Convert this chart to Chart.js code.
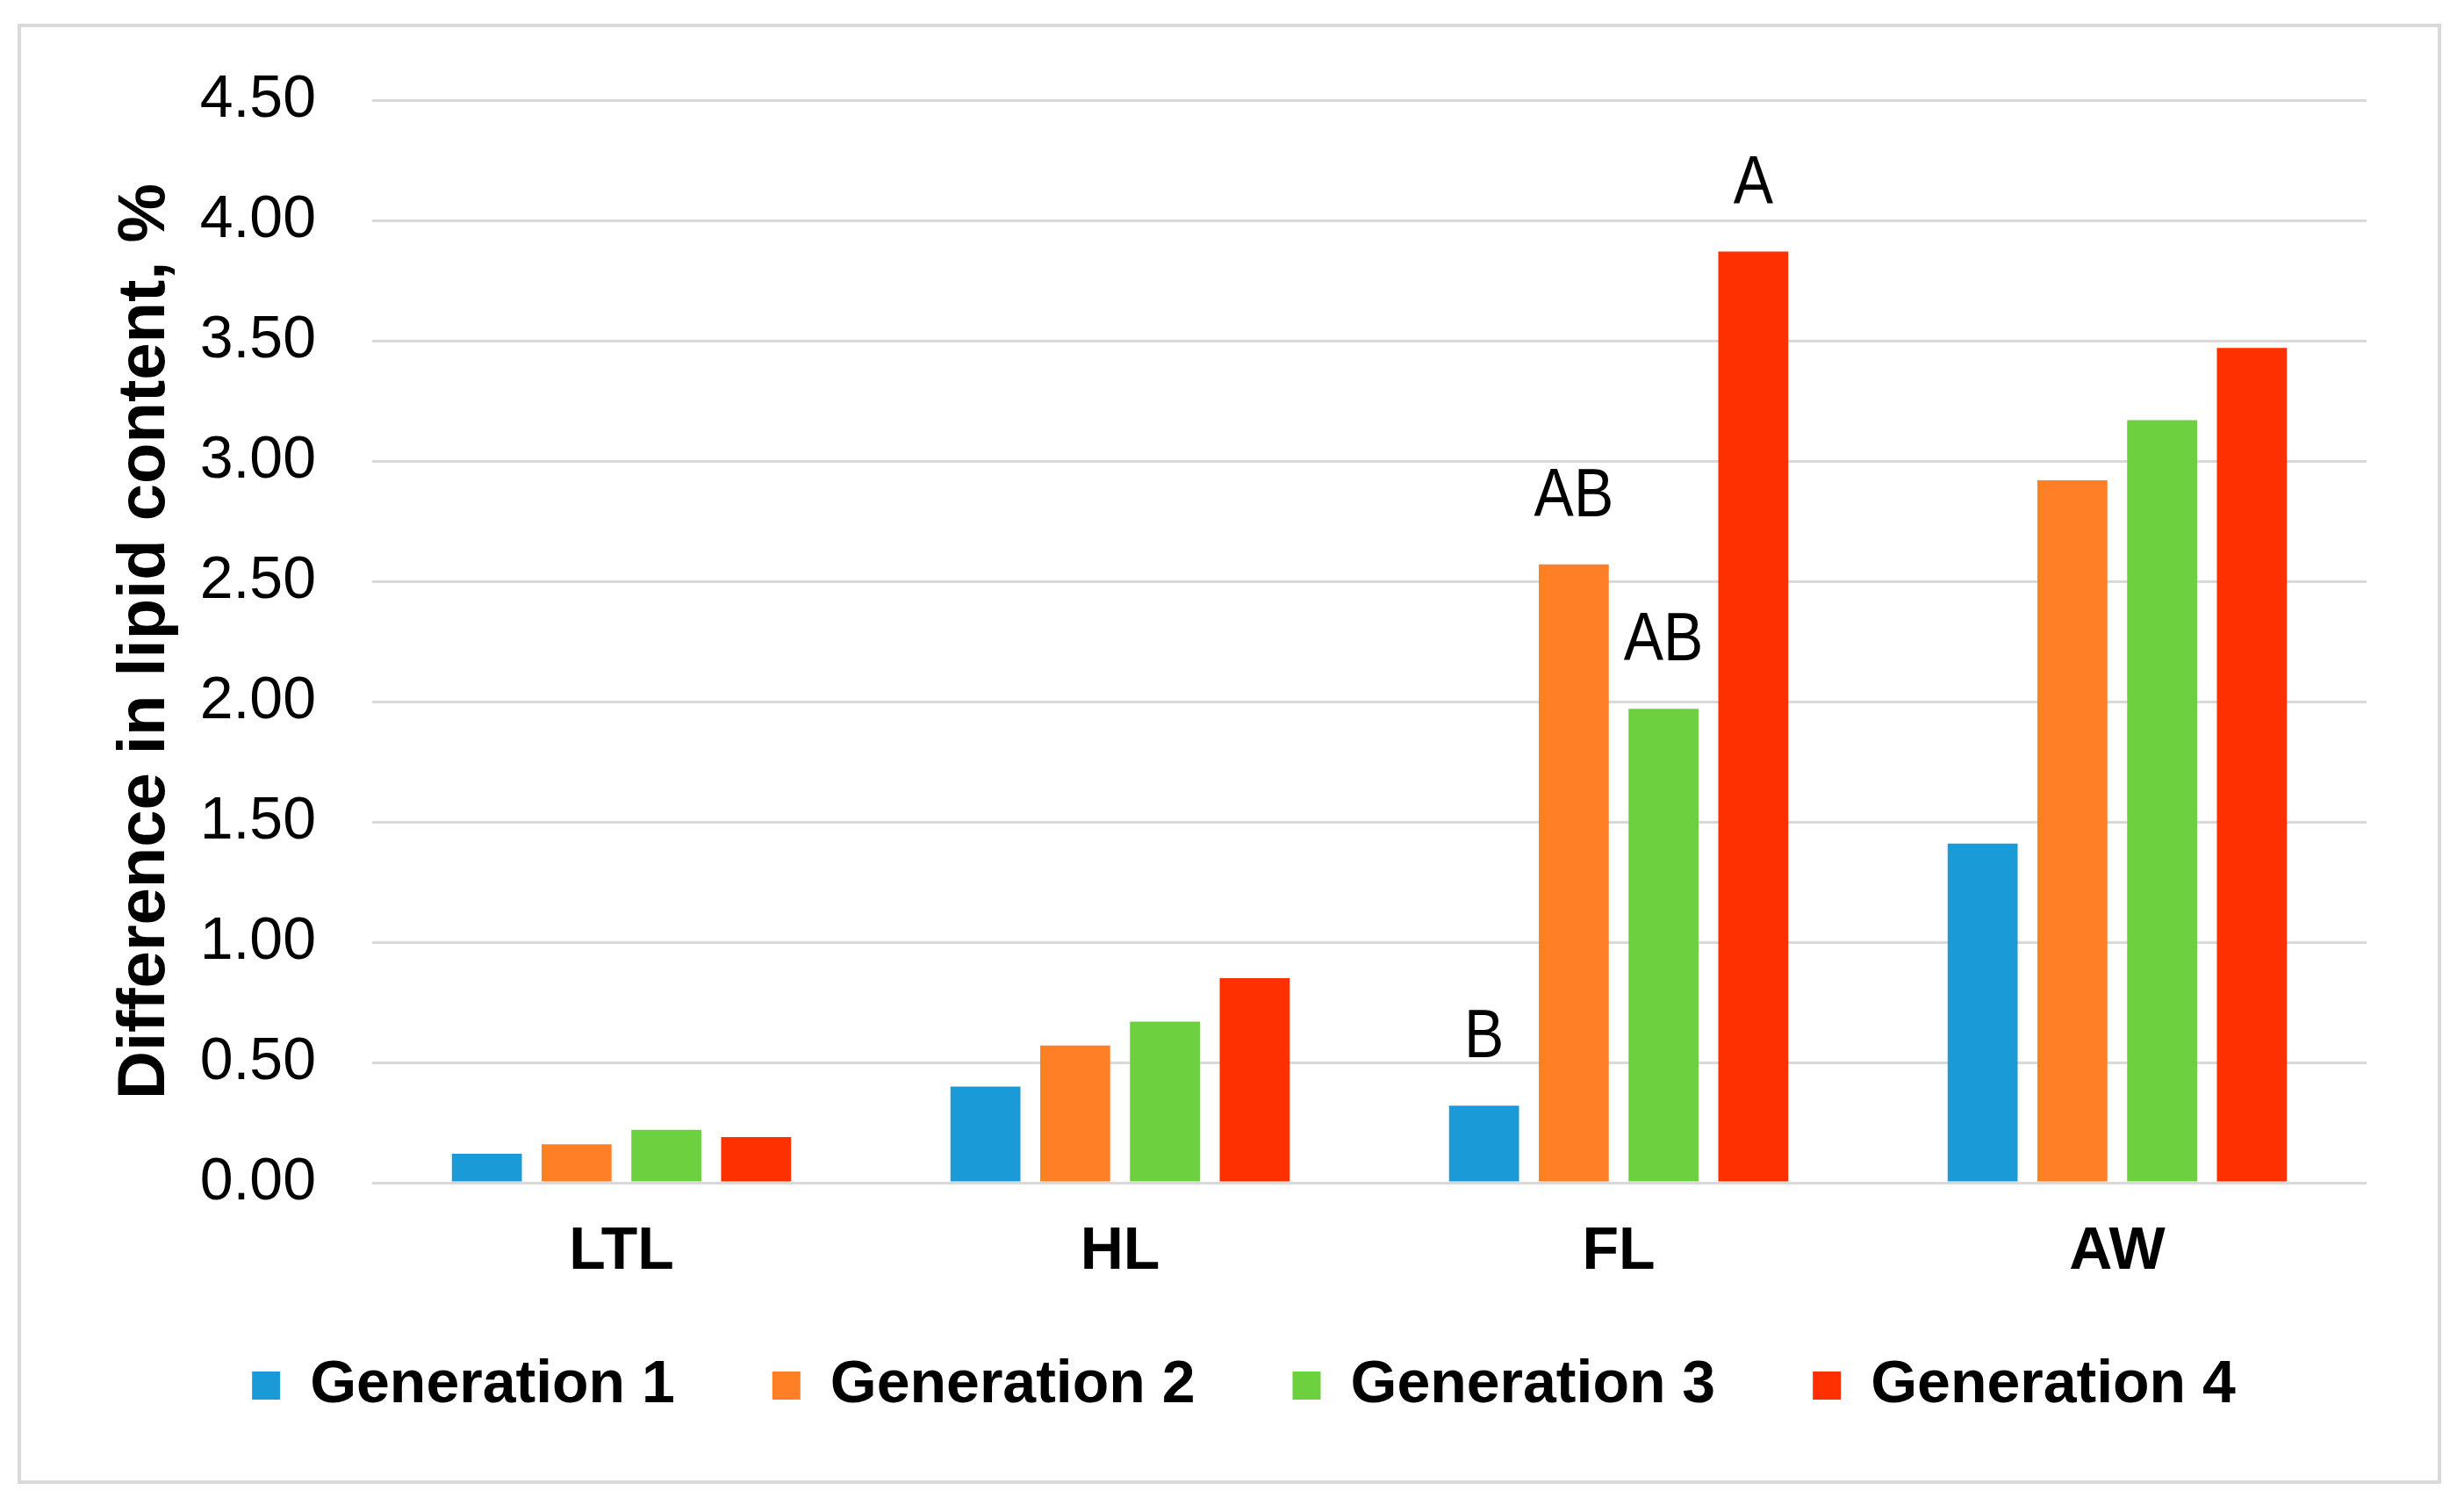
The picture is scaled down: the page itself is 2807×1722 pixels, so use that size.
<!DOCTYPE html>
<html>
<head>
<meta charset="utf-8">
<script src="https://cdn.jsdelivr.net/npm/chart.js@4.4.1/dist/chart.umd.min.js"></script>
<style>
  html, body { margin: 0; padding: 0; background: #ffffff; }
  #wrap { position: relative; width: 2807px; height: 1722px; overflow: hidden; }
  #frame { position: absolute; left: 20px; top: 27px; width: 2761px; height: 1663px;
           border: 4px solid #d9d9d9; box-sizing: border-box; }
  #c { position: absolute; left: 0; top: 0; }
</style>
</head>
<body>
<div id="wrap">
  <div id="frame"></div>
  <canvas id="c" width="2807" height="1722"></canvas>
</div>
<script>
// ---- data ----
const categories = ["LTL", "HL", "FL", "AW"];
const seriesNames = ["Generation 1", "Generation 2", "Generation 3", "Generation 4"];
const gen1 = [0.12, 0.40, 0.32, 1.41];
const gen2 = [0.16, 0.57, 2.57, 2.92];
const gen3 = [0.22, 0.67, 1.97, 3.17];
const gen4 = [0.19, 0.85, 3.87, 3.47];
const sig1 = ["", "", "B", ""];
const sig2 = ["", "", "AB", ""];
const sig3 = ["", "", "AB", ""];
const sig4 = ["", "", "A", ""];
const yTicks = [0, 0.5, 1, 1.5, 2, 2.5, 3, 3.5, 4, 4.5];
const yTitle = "Difference in lipid content, %";

const colors = ["#1a9bd7", "#ff7f27", "#6dd13f", "#ff3000"];
const values = [gen1, gen2, gen3, gen4];
const sigs = [sig1, sig2, sig3, sig4];

const sigPlugin = {
  id: 'sigLetters',
  afterLayout(chart) {
    // nudge the legend so it sits closer to the axis labels
    const lg = chart.legend;
    if (lg) { lg.top -= 24; lg.bottom -= 24; lg.left += 11; lg.right += 11; }
  },
  afterDatasetsDraw(chart) {
    const ctx = chart.ctx;
    ctx.save();
    ctx.font = '78px "Liberation Sans", Arial, sans-serif';
    ctx.fillStyle = '#000';
    ctx.textAlign = 'center';
    ctx.textBaseline = 'alphabetic';
    chart.data.datasets.forEach((ds, i) => {
      const meta = chart.getDatasetMeta(i);
      meta.data.forEach((bar, j) => {
        const t = sigs[i][j];
        if (t) {
          ctx.save();
          ctx.translate(bar.x, bar.y - 55);
          ctx.scale(0.87, 1);
          ctx.fillText(t, 0, 0);
          ctx.restore();
        }
      });
    });
    ctx.restore();
  }
};

new Chart(document.getElementById('c'), {
  type: 'bar',
  data: {
    labels: categories,
    datasets: seriesNames.map((n, i) => ({
      label: n,
      data: values[i],
      backgroundColor: colors[i],
      borderWidth: 0,
      categoryPercentage: 0.72,
      barPercentage: 0.78
    }))
  },
  options: {
    responsive: false,
    devicePixelRatio: 1,
    animation: false,
    layout: { padding: { left: 116, right: 111, top: 114, bottom: 76 } },
    plugins: {
      tooltip: { enabled: false },
      legend: {
        position: 'bottom',
        labels: {
          boxWidth: 32,
          boxHeight: 32,
          padding: 111,
          color: '#000',
          font: { family: '"Liberation Sans", Arial, sans-serif', size: 68, weight: 'bold' }
        }
      }
    },
    scales: {
      x: {
        grid: { display: false, drawTicks: false },
        border: { display: false },
        ticks: {
          color: '#000',
          padding: 38,
          font: { family: '"Liberation Sans", Arial, sans-serif', size: 68, weight: 'bold' }
        },
        afterFit(scale) { scale.height = 110; }
      },
      y: {
        min: 0,
        max: 4.5,
        afterBuildTicks(scale) { scale.ticks = yTicks.map(v => ({ value: v })); },
        grid: { color: '#d9d9d9', lineWidth: 3, drawTicks: false },
        border: { display: false },
        ticks: {
          color: '#000',
          padding: 64,
          font: { family: '"Liberation Sans", Arial, sans-serif', size: 68 },
          callback: v => Number(v).toFixed(2)
        },
        title: {
          display: true,
          text: yTitle,
          color: '#000',
          font: { family: '"Liberation Sans", Arial, sans-serif', size: 76, weight: 'bold' }
        },
        afterFit(scale) { scale.width = 308; }
      }
    }
  },
  plugins: [sigPlugin]
});
</script>
</body>
</html>
